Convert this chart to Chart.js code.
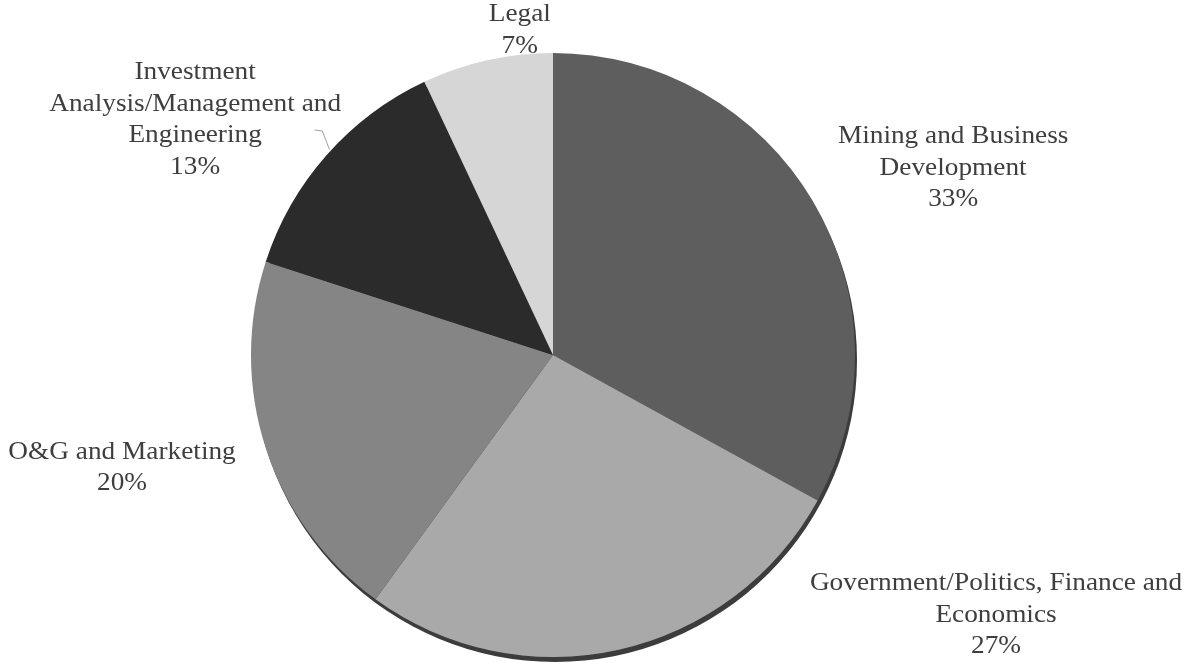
<!DOCTYPE html>
<html>
<head>
<meta charset="utf-8">
<script src="https://cdn.jsdelivr.net/npm/chart.js@4/dist/chart.umd.min.js"></script>
<style>
  html, body { margin: 0; padding: 0; background: #fff; }
  #wrap { width: 1194px; height: 668px; position: relative; }
</style>
</head>
<body>
<div id="wrap"><canvas id="chartPie"></canvas></div>
<script>
// Dados do gráfico
const categorias = [
  ['Mining and Business', 'Development'],
  ['Government/Politics, Finance and', 'Economics'],
  ['O&G and Marketing'],
  ['Investment', 'Analysis/Management and', 'Engineering'],
  ['Legal']
];
const valores = [33, 27, 20, 13, 7];
const cores = ['#5e5e5e', '#a9a9a9', '#858585', '#2b2b2b', '#d6d6d6'];

// posição dos rótulos (centro do bloco, em raios a partir do centro da pizza)
const posRotulos = [
  [1.325, -0.62],
  [1.467, 0.86],
  [-1.427, 0.373],
  [-1.185, -0.78],
  [-0.11, -1.075]
];

const rotulosPlugin = {
  id: 'rotulos',
  beforeDatasetsDraw(chart) {
    const arc = chart.getDatasetMeta(0).data[0];
    if (!arc) return;
    const ctx = chart.ctx;
    const r = arc.outerRadius;
    // sombra do efeito 3D
    ctx.save();
    ctx.beginPath();
    ctx.arc(arc.x + 2, arc.y + 5, r, 0, Math.PI * 2);
    ctx.fillStyle = '#3c3c3c';
    ctx.fill();
    ctx.restore();
  },
  afterDatasetsDraw(chart) {
    const meta = chart.getDatasetMeta(0);
    const ctx = chart.ctx;
    const arc0 = meta.data[0];
    const cx = arc0.x, cy = arc0.y, r = arc0.outerRadius;
    const total = valores.reduce((a, b) => a + b, 0);
    ctx.save();
    ctx.font = '26px "Liberation Serif", "Times New Roman", serif';
    ctx.fillStyle = '#3e3e3e';
    ctx.textAlign = 'center';
    ctx.textBaseline = 'middle';
    const lh = 31.5;
    categorias.forEach((cat, i) => {
      const linhas = cat.concat([Math.round(valores[i] / total * 100) + '%']);
      const bx = cx + posRotulos[i][0] * r;
      const by = cy + posRotulos[i][1] * r;
      const y0 = by - (linhas.length - 1) * lh / 2;
      linhas.forEach((t, j) => {
        ctx.save();
        ctx.translate(bx, y0 + j * lh);
        ctx.scale(1.05, 1);
        ctx.fillText(t, 0, 0);
        ctx.restore();
      });
    });
    // linha guia do rótulo "Investment"
    ctx.strokeStyle = '#a0a0a0';
    ctx.lineWidth = 1;
    ctx.beginPath();
    ctx.moveTo(cx - 0.79 * r, cy - 0.745 * r);
    ctx.lineTo(cx - 0.764 * r, cy - 0.742 * r);
    ctx.lineTo(cx - 0.74 * r, cy - 0.68 * r);
    ctx.stroke();
    ctx.restore();
  }
};

const ctxPie = document.getElementById('chartPie').getContext('2d');
const chartPie = new Chart(ctxPie, {
  type: 'pie',
  data: {
    labels: categorias.map(c => c.join(' ')),
    datasets: [{
      data: valores,
      backgroundColor: cores,
      borderWidth: 0
    }]
  },
  options: {
    responsive: true,
    maintainAspectRatio: false,
    animation: false,
    layout: { padding: { left: 251, right: 339, top: 53, bottom: 11 } },
    plugins: {
      legend: { display: false },
      tooltip: { enabled: false }
    }
  },
  plugins: [rotulosPlugin]
});
</script>
</body>
</html>
